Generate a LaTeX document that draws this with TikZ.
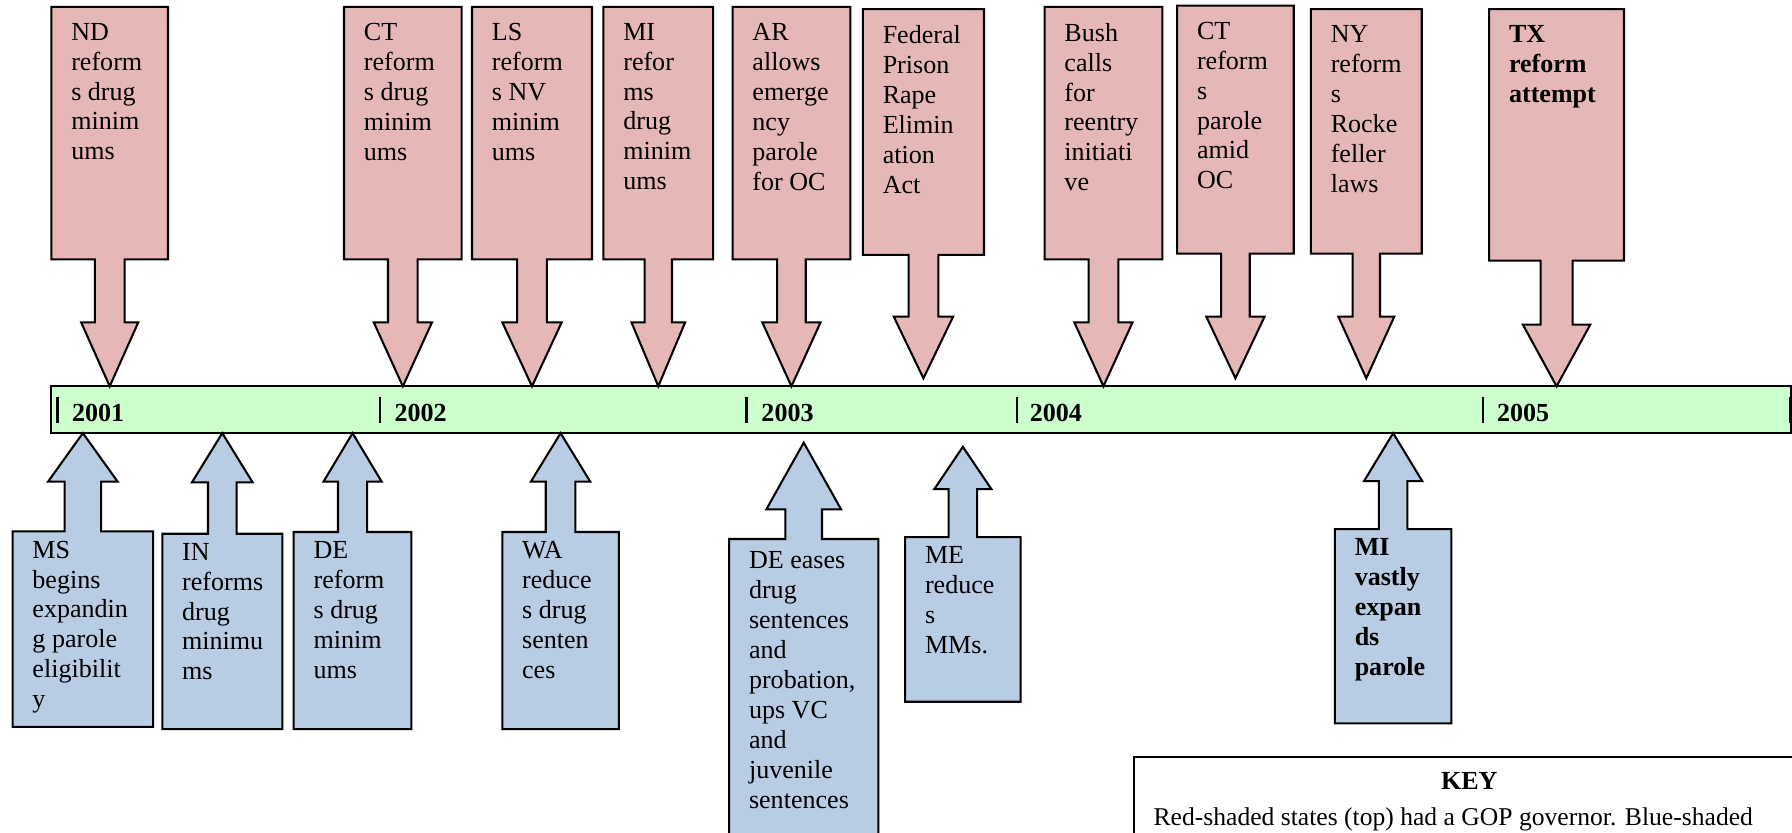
\documentclass[tikz,border=0pt]{standalone}
\usepackage{fontspec}
\setmainfont{Liberation Serif}
\usepackage{xcolor}
\definecolor{gop}{RGB}{229, 184, 183}
\definecolor{dem}{RGB}{184, 204, 228}
\definecolor{bar}{RGB}{204, 255, 204}

\tikzset{
    redbox/.style={fill=gop, draw=black, line width=0.9pt},
    bluebox/.style={fill=dem, draw=black, line width=0.9pt},
    boxtext/.style={anchor=north west, inner sep=0pt, align=left, font=\fontsize{11.4}{13.1}\selectfont},
    boldtext/.style={boxtext, font=\fontsize{11.4}{13.1}\selectfont\bfseries},
    yeartext/.style={anchor=base west, inner sep=0pt, font=\fontsize{11.4}{13.1}\selectfont\bfseries}
}

% box and block arrow: style, left, right, far edge, near edge, head base, tip, half shaft, half head
\newcommand{\callout}[9]{%
    \filldraw[#1] (#2,#4) -- (#3,#4) -- (#3,#5) -- ({(#2+#3)/2+#8},#5) -- ({(#2+#3)/2+#8},#6)
        -- ({(#2+#3)/2+#9},#6) -- ({(#2+#3)/2},#7) -- ({(#2+#3)/2-#9},#6)
        -- ({(#2+#3)/2-#8},#6) -- ({(#2+#3)/2-#8},#5) -- (#2,#5) -- cycle;}

\begin{document}
\begin{tikzpicture}[x=0.5pt, y=-0.5pt]
        \useasboundingbox (0,0) rectangle (1568,728);
        \clip (0,0) rectangle (1568,728);

        % timeline
        \filldraw[fill=bar, draw=black, line width=0.9pt] (45,338) rectangle (1567.5,379);
        \foreach \x in {50.2,332.5,653.3,889.6,1297.9,1566}
            \draw[line width=1pt] (\x,347) -- (\x,370);
        \node[yeartext] (y2001) at (62.7,369) {2001};
        \node[yeartext] (y2002) at (344.8,369) {2002};
        \node[yeartext] (y2003) at (665.9,369) {2003};
        \node[yeartext] (y2004) at (900.7,369) {2004};
        \node[yeartext] (y2005) at (1309.6,369) {2005};

        % GOP governors (top)
        \callout{redbox}{45}{147}{6}{227}{282}{338}{13}{25}
        \callout{redbox}{301}{404}{6}{227}{282}{338}{13}{25.5}
        \callout{redbox}{413}{518}{6}{227}{282}{338}{13}{26}
        \callout{redbox}{528}{624}{6}{227}{282}{338}{12}{23.5}
        \callout{redbox}{641}{744}{6}{227}{282}{338}{12.5}{25.5}
        \callout{redbox}{755}{861}{8}{223}{277}{331}{13}{26}
        \callout{redbox}{914}{1017}{6}{227}{282}{338}{13}{25.5}
        \callout{redbox}{1030}{1132}{5}{222}{277}{331}{12.5}{25.5}
        \callout{redbox}{1147}{1244}{8}{222}{277}{331}{12}{24.5}
        \callout{redbox}{1303}{1421}{8}{228}{284}{338}{14}{29.5}
        \node[boxtext] (nd) at (62,19.8) {ND\\reform\\s drug\\minim\\ums};
        \node[boxtext] (ct) at (318,19.8) {CT\\reform\\s drug\\minim\\ums};
        \node[boxtext] (ls) at (430,19.8) {LS\\reform\\s NV\\minim\\ums};
        \node[boxtext] (mi) at (545,19.8) {MI\\refor\\ms\\drug\\minim\\ums};
        \node[boxtext] (ar) at (658,19.8) {AR\\allows\\emerge\\ncy\\parole\\for OC};
        \node[boxtext] (prea) at (772,21.8) {Federal\\Prison\\Rape\\Elimin\\ation\\Act};
        \node[boxtext] (bush) at (931,19.8) {Bush\\calls\\for\\reentry\\initiati\\ve};
        \node[boxtext] (ctparole) at (1047,18.8) {CT\\reform\\s\\parole\\amid\\OC};
        \node[boxtext] (ny) at (1164,21.8) {NY\\reform\\s\\Rocke\\feller\\laws};
        \node[boldtext] (tx) at (1320,21.8) {TX\\reform\\attempt};

        % Democratic governors (bottom)
        \callout{bluebox}{11}{134}{636}{465}{421.5}{379}{16}{30.5}
        \callout{bluebox}{142}{247}{638}{467}{422}{379}{12.5}{26.5}
        \callout{bluebox}{257}{360}{638}{465.5}{421.5}{379}{12.75}{25.5}
        \callout{bluebox}{439.5}{541.5}{638}{465.5}{421.5}{379}{13}{26}
        \callout{bluebox}{638}{768.5}{760}{471.6}{445.7}{387.3}{16}{32.7}
        \callout{bluebox}{792}{893}{614}{470}{428}{391}{12.5}{25}
        \callout{bluebox}{1168}{1270}{633}{463}{421}{379}{12.5}{25.5}
        \node[boxtext] (ms) at (28,472.8) {MS\\begins\\expandin\\g parole\\eligibilit\\y};
        \node[boxtext] (in) at (159,474.8) {IN\\reforms\\drug\\minimu\\ms};
        \node[boxtext] (de) at (274,473.3) {DE\\reform\\s drug\\minim\\ums};
        \node[boxtext] (wa) at (456.5,473.3) {WA\\reduce\\s drug\\senten\\ces};
        \node[boxtext] (deeases) at (655,482.1) {DE eases\\drug\\sentences\\and\\probation,\\ups VC\\and\\juvenile\\sentences};
        \node[boxtext] (me) at (809,477.8) {ME\\reduce\\s\\MMs.};
        \node[boldtext] (miparole) at (1185,470.8) {MI\\vastly\\expan\\ds\\parole};

        % key
        \filldraw[fill=white, draw=black, line width=0.9pt] (992,662) rectangle (1580,760);
        \node[anchor=base, inner sep=0pt, font=\fontsize{11.4}{13.1}\selectfont\bfseries] (key) at (1285.6,691) {KEY};
        \node[anchor=base west, inner sep=0pt, font=\fontsize{11.2}{13.1}\selectfont] (keynote) at (1009,722.5) {Red-shaded states (top) had a GOP governor. Blue-shaded};
    \end{tikzpicture}
\end{document}
